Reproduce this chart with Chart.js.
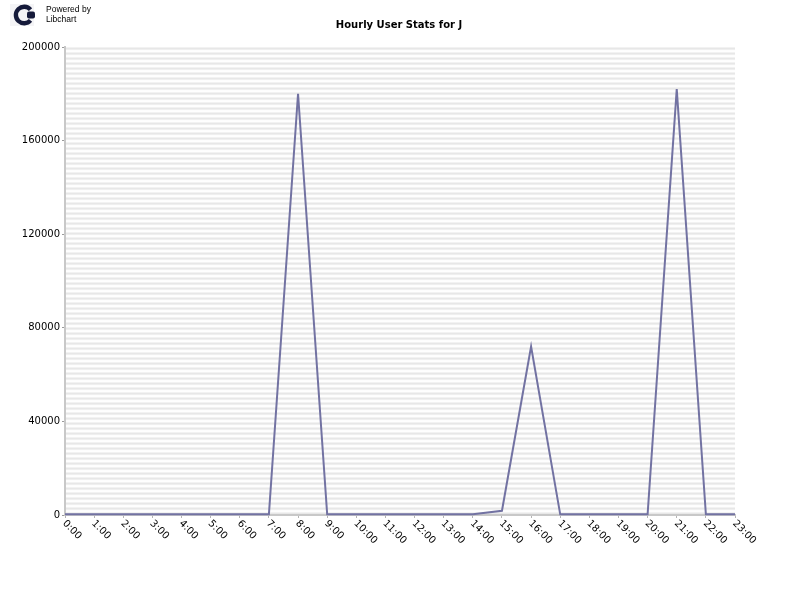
<!DOCTYPE html>
<html><head><meta charset="utf-8">
<script src="https://cdn.jsdelivr.net/npm/chart.js@4/dist/chart.umd.min.js"></script>
<style>
html,body{margin:0;padding:0;background:#fff;}
#wrap{position:relative;width:800px;height:600px;}
canvas{position:absolute;left:0;top:0;}
#logo{position:absolute;left:10px;top:4px;}
#pw{position:absolute;left:46px;top:5px;font:8.5px "Liberation Sans",Arial,sans-serif;line-height:9.5px;color:#000;}
</style></head><body>
<div id="wrap"><canvas id="c" width="800" height="600"></canvas>
<svg id="logo" width="28" height="24" viewBox="0 0 28 24">
<rect x="0" y="0" width="24" height="22" fill="#f4f4f6"/>
<path d="M20.5 5.6 A8.3 8.3 0 1 0 20.5 16.4" fill="none" stroke="#151a3a" stroke-width="4.4"/>
<rect x="17" y="7.5" width="8" height="7" rx="2" fill="#151a3a"/>
</svg>
<div id="pw">Powered by<br>Libchart</div></div>
<script>
const hours = ['0:00','1:00','2:00','3:00','4:00','5:00','6:00','7:00','8:00','9:00','10:00','11:00','12:00','13:00','14:00','15:00','16:00','17:00','18:00','19:00','20:00','21:00','22:00','23:00'];
const users = [300,300,300,300,300,300,300,300,180000,300,300,300,300,300,300,1800,72000,300,300,300,300,182000,300,300];
const yTicks = [0,40000,80000,120000,160000,200000];
const chartTitle = 'Hourly User Stats for J';

const stripes = {
  id:'stripes',
  beforeDraw(chart){
    const {ctx, chartArea:{left,right,top,bottom}} = chart;
    const cols=['#f2f2f2','#e7e7e7','#efefef','#fdfdfd','#fefefe'];
    ctx.save();
    for(let y=Math.floor(top),i=0;y<bottom;y++,i++){ctx.fillStyle=cols[i%5];ctx.fillRect(left,y,right-left,1);}
    ctx.restore();
  }
};
const texts = {
  id:'texts',
  afterDraw(chart){
    const ctx=chart.ctx, xs=chart.scales.x;
    ctx.save();
    ctx.fillStyle='#000';
    ctx.font='bold 10px "DejaVu Sans"';
    ctx.textAlign='center'; ctx.textBaseline='middle';
    ctx.fillText(chartTitle,399,25);
    ctx.font='10px "DejaVu Sans"';
    hours.forEach((h,i)=>{
      const x=xs.getPixelForValue(i);
      ctx.save();
      ctx.translate(x-1,522);
      ctx.rotate(Math.PI/4);
      ctx.textAlign='left'; ctx.textBaseline='middle';
      ctx.fillText(h,0,0);
      ctx.restore();
    });
    ctx.restore();
  }
};

new Chart(document.getElementById('c'),{
  type:'line',
  data:{labels:hours,datasets:[{label:'Users',data:users,borderColor:'#7272a2',borderWidth:2,pointRadius:0,tension:0,fill:false,clip:false}]},
  options:{
    responsive:false,animation:false,
    layout:{padding:{top:47,right:65,left:0,bottom:0}},
    plugins:{legend:{display:false},title:{display:false},tooltip:{enabled:false}},
    scales:{
      x:{type:'category',offset:false,
        grid:{display:true,drawOnChartArea:false,drawTicks:true,tickLength:3,color:'#b4b4b4',tickWidth:1},
        border:{display:true,color:'#c8c8c8',width:2},
        ticks:{display:false},
        afterFit(s){s.height=85;}
      },
      y:{min:0,max:200000,
        afterBuildTicks(s){s.ticks=yTicks.map(v=>({value:v}));},
        grid:{display:true,drawOnChartArea:false,drawTicks:true,tickLength:3,color:'#9a9a9a'},
        border:{display:true,color:'#c8c8c8',width:2},
        ticks:{color:'#000',font:{family:'"DejaVu Sans"',size:10},padding:2,callback:v=>String(v)},
        afterFit(s){s.width=65;}
      }
    }
  },
  plugins:[stripes,texts]
});
</script>
</body></html>
